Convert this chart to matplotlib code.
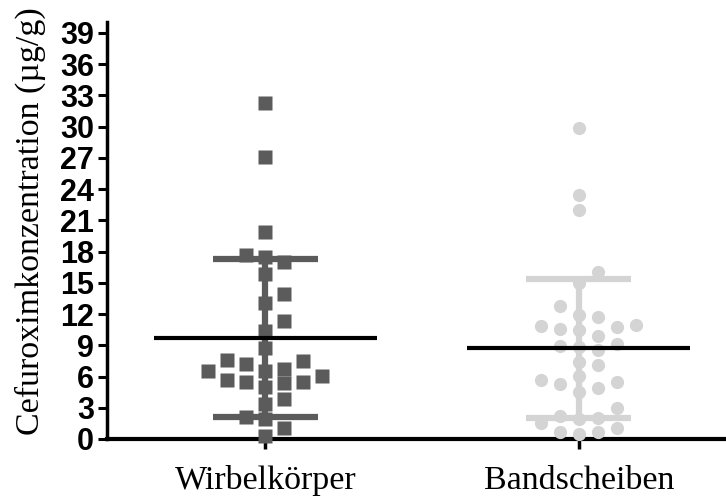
import matplotlib.pyplot as plt
import numpy as np

categories = ['Wirbelkörper', 'Bandscheiben']
wirbel = [32.3, 27.1, 19.9, 17.5, 17.7, 17.0, 15.8, 13.9, 13.1, 11.3,
          10.4, 8.7, 7.5, 7.2, 7.6, 6.5, 6.05, 5.5, 5.35, 5.5,
          5.0, 5.7, 6.5, 6.75, 3.85, 3.35, 1.9, 2.15, 1.1, 0.3]
band = [29.9, 23.4, 22.0, 16.0, 15.0, 12.8, 11.7, 11.9, 10.6, 10.9,
        10.8, 10.95, 10.5, 9.9, 8.8, 8.9, 9.1, 8.55, 7.4, 7.1,
        6.05, 5.5, 5.25, 5.7, 4.5, 4.9, 2.95, 2.05, 2.2, 1.9,
        1.5, 1.1, 0.7, 0.45, 0.65]
means = [9.7, 8.7]
sds = [7.6, 6.7]
yticks = list(range(0, 40, 3))

colors = ['#5b5b5b', '#d4d4d4']
markers = ['s', 'o']

fig = plt.figure(figsize=(7.26, 5), dpi=100)
ax = fig.add_axes([0.1474, 0.122, 0.8526, 0.833])
ax.set_xlim(-0.505, 1.47)
ax.set_ylim(0, 40)

# pixel scale of the axes, used to spread points side by side
px_x = 0.8526 * 726 / (1.47 + 0.505)
px_y = 0.833 * 500 / 40.0


def swarm(values, step=9.5, min_dx=18.5, min_dy=13.5):
    """Greedy beeswarm: returns x offsets in data units."""
    vals = np.asarray(values, dtype=float)
    offs = np.zeros(len(vals))
    placed = []
    for i in np.argsort(vals):
        y = vals[i] * px_y
        k = 0
        while True:
            cands = [0] if k == 0 else [k, -k]
            done = False
            for c in cands:
                x = c * step
                if all(abs(x - p[0]) >= min_dx or abs(y - p[1]) >= min_dy for p in placed):
                    placed.append((x, y))
                    offs[i] = x / px_x
                    done = True
                    break
            if done:
                break
            k += 1
    return offs


for i, vals in enumerate([wirbel, band]):
    xs = i + swarm(vals)
    ax.plot(xs, vals, markers[i], ms=9.5, color=colors[i], mec='none',
            zorder=3, clip_on=False)
    m, s = means[i], sds[i]
    ax.vlines(i, m - s, m + s, color=colors[i], lw=4.5, zorder=4)
    ax.hlines([m - s, m + s], i - 0.167, i + 0.167, color=colors[i], lw=4.5, zorder=4)
    ax.hlines(m, i - 0.355, i + 0.355, color='black', lw=3, zorder=5)

ax.spines['top'].set_visible(False)
ax.spines['right'].set_visible(False)
ax.spines['left'].set_linewidth(2.5)
ax.spines['bottom'].set_linewidth(3)

ax.set_yticks(yticks)
ax.set_yticklabels([str(t) for t in yticks], fontfamily='Liberation Sans',
                   fontweight='bold', fontsize=22)
ax.tick_params(axis='y', length=6.5, width=2.2, pad=3)
ax.set_xticks([0, 1])
ax.set_xticklabels(categories, fontfamily='Liberation Serif', fontsize=24.5)
ax.tick_params(axis='x', length=7, width=2.5, pad=12)

ax.set_ylabel('Cefuroximkonzentration (µg/g)', fontfamily='Liberation Serif',
              fontsize=24.5)
ax.yaxis.set_label_coords(-0.099, 0.523)

fig.savefig('out.png', dpi=100)
